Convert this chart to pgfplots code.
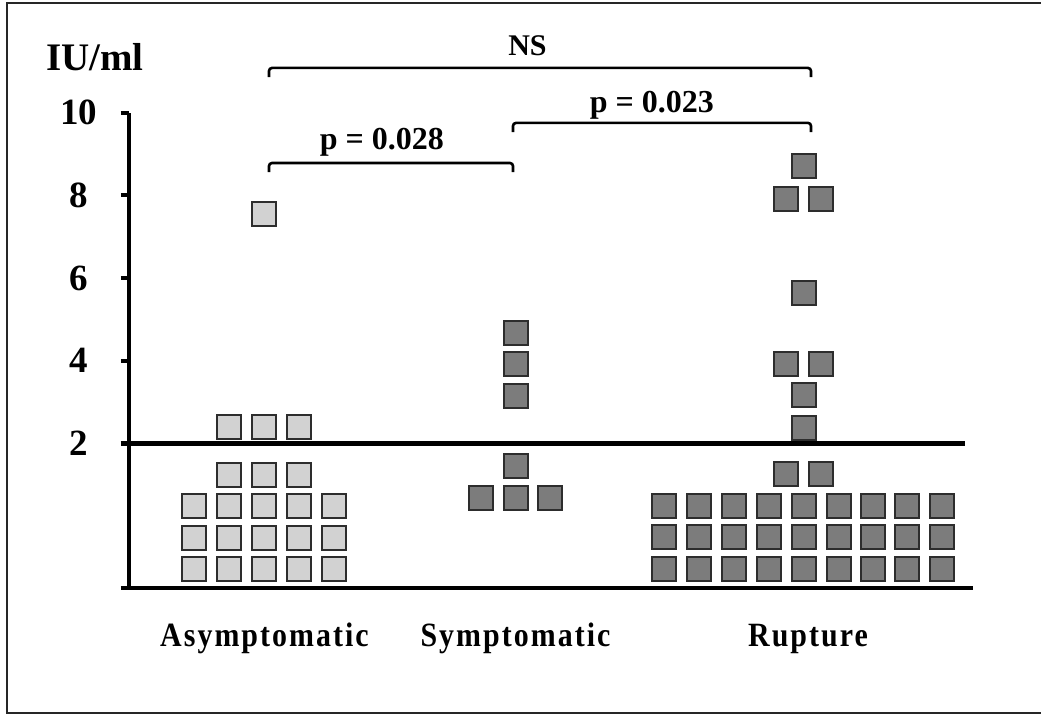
\documentclass[border=0pt]{standalone}
\usepackage{fontspec}
\setmainfont{Liberation Serif}
\usepackage{pgfplots}
\usepackage{pgfplotstable}
\pgfplotsset{compat=1.18}

\definecolor{lightsq}{RGB}{210,210,210}
\definecolor{darksq}{RGB}{124,124,124}
\definecolor{edge}{RGB}{45,45,45}

% x: horizontal position of each square (columns about 35 units apart)
% y: level in IU/ml; the rows under the 2 IU/ml line are stacked counts
\pgfplotstableread{
x y
264.5 7.54
229.5 2.40
264.5 2.40
299.5 2.40
229.5 1.24
264.5 1.24
299.5 1.24
194.5 0.49
229.5 0.49
264.5 0.49
299.5 0.49
334.5 0.49
194.5 -0.28
229.5 -0.28
264.5 -0.28
299.5 -0.28
334.5 -0.28
194.5 -1.04
229.5 -1.04
264.5 -1.04
299.5 -1.04
334.5 -1.04
}\asym

\pgfplotstableread{
x y
515.5 4.67
515.5 3.91
515.5 3.15
515.5 1.44
481 0.68
515.5 0.68
550 0.68
}\sympt

\pgfplotstableread{
x y
804 8.70
786 7.91
820.5 7.91
804 5.63
786 3.92
820.5 3.92
804 3.16
804 2.38
786 1.25
820.5 1.25
664 0.49
699 0.49
734 0.49
769 0.49
804 0.49
838.5 0.49
873 0.49
907 0.49
942 0.49
664 -0.27
699 -0.27
734 -0.27
769 -0.27
804 -0.27
838.5 -0.27
873 -0.27
907 -0.27
942 -0.27
664 -1.03
699 -1.03
734 -1.03
769 -1.03
804 -1.03
838.5 -1.03
873 -1.03
907 -1.03
942 -1.03
}\rupt

\newfontfamily\catfamily[FakeStretch=0.88, LetterSpace=6]{Liberation Serif}
\newcommand{\catfont}{\catfamily\bfseries\fontsize{17}{18}\selectfont}

\begin{document}
\begin{tikzpicture}
\begin{scope}[x=0.5pt,y=-0.5pt]
  \useasboundingbox (0,0) rectangle (1041,715);
  \draw[line width=1.1pt, color=black!85] (1041,3) -- (7,3) -- (7,713) -- (1041,713);
\end{scope}
\begin{axis}[
  at={(64.5pt,-294pt)}, anchor=south west,
  scale only axis, width=422pt, height=237.7pt,
  xmin=129, xmax=973, ymin=-1.5, ymax=10,
  axis x line=bottom, axis y line=left,
  axis line style={-, line width=2.4pt, black},
  x axis line style={shorten <=-4pt},
  tick align=outside, major tick length=4pt,
  ytick={2,4,6,8,10}, yticklabels={2,4,6,8,10},
  ytick style={line width=2pt, black},
  yticklabel style={font=\bfseries\fontsize{18.5}{20}\selectfont, anchor=center, xshift=-21pt},
  xtick={264.5,515.5,808},
  xticklabels={Asymptomatic,Symptomatic,Rupture},
  xtick style={draw=none},
  xticklabel style={font=\catfont, anchor=base, yshift=-25.5pt},
  clip=false,
]
\addplot[line width=2.4pt, black, no marks] coordinates {(121,2) (965,2)};

\addplot[only marks, mark=square*, mark size=6pt,
  mark options={fill=lightsq, draw=edge, line width=1pt}] table {\asym};
\addplot[only marks, mark=square*, mark size=6pt,
  mark options={fill=darksq, draw=edge, line width=1pt}] table {\sympt};
\addplot[only marks, mark=square*, mark size=6pt,
  mark options={fill=darksq, draw=edge, line width=1pt}] table {\rupt};

% significance brackets
\draw[line width=1.3pt, rounded corners=1.5pt]
  (axis cs:269,10.86) -- (axis cs:269,11.08) -- (axis cs:811,11.08) -- (axis cs:811,10.86);
\draw[line width=1.3pt, rounded corners=1.5pt]
  (axis cs:513,9.53) -- (axis cs:513,9.75) -- (axis cs:811,9.75) -- (axis cs:811,9.53);
\draw[line width=1.3pt, rounded corners=1.5pt]
  (axis cs:269,8.56) -- (axis cs:269,8.78) -- (axis cs:513,8.78) -- (axis cs:513,8.56);

\node[anchor=base, font=\bfseries\fontsize{15}{16}\selectfont] at (axis cs:527.5,11.39) {NS};
\node[anchor=base, font=\bfseries\fontsize{16}{17}\selectfont] at (axis cs:652,10.01) {p = 0.023};
\node[anchor=base, font=\bfseries\fontsize{16}{17}\selectfont] at (axis cs:382,9.10) {p = 0.028};
\node[anchor=base, font=\bfseries\fontsize{19.5}{21}\selectfont] at (axis cs:95,11.03) {IU/ml};
\end{axis}
\end{tikzpicture}
\end{document}
